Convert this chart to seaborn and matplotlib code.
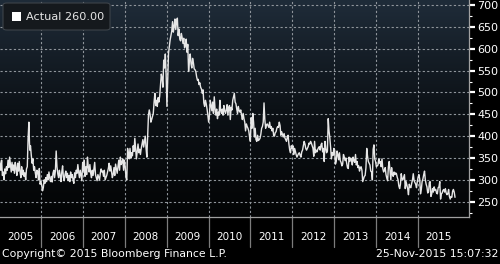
import numpy as np
import pandas as pd
import matplotlib
matplotlib.use("Agg")
import matplotlib.pyplot as plt
import matplotlib.dates as mdates
from matplotlib.colors import LinearSegmentedColormap
from matplotlib.patches import FancyBboxPatch, Rectangle
import seaborn as sns

# Weekly initial jobless claims (thousands)
claims_2005 = [348, 336, 322, 345, 310, 318, 300, 325, 314, 330, 322, 345, 328,
               352, 335, 318, 340, 322, 334, 315, 340, 326, 310, 338, 320, 342,
               318, 305, 330, 312, 322, 308, 316, 300, 325, 330, 395, 432, 368,
               378, 356, 338, 348, 322, 330, 316, 305, 322, 318, 300, 326, 290, 296]
claims_2006 = [288, 275, 282, 300, 292, 305, 296, 312, 300, 318, 304, 296,
               308, 295, 315, 322, 305, 320, 366, 330, 314, 305, 322, 310, 296,
               318, 332, 306, 298, 312, 320, 305, 315, 298, 310, 296, 318, 305, 312,
               300, 292, 316, 305, 322, 315, 335, 318, 305, 322, 310, 298, 340]
claims_2007 = [320, 345, 308, 330, 312, 352, 330, 318, 335, 315, 305, 322, 310,
               326, 340, 312, 305, 298, 312, 306, 300, 315, 325, 318, 320, 308,
               322, 300, 305, 310, 318, 326, 338, 320, 332, 318, 305, 312, 328,
               310, 336, 325, 315, 330, 345, 322, 352, 335, 340, 348, 322, 345]
claims_2008 = [330, 305, 300, 372, 358, 348, 372, 350, 362, 355, 378, 365, 395,
               372, 348, 365, 382, 362, 370, 358, 372, 382, 392, 375, 388, 400,
               372, 352, 402, 448, 460, 450, 432, 438, 445, 452, 478, 498, 470,
               482, 468, 488, 478, 492, 518, 542, 532, 512, 574, 556, 588, 542]
claims_2009 = [468, 528, 590, 605, 620, 630, 640, 662, 638, 652, 668, 644, 662,
               670, 630, 645, 622, 618, 635, 625, 612, 624, 602, 608, 622, 592,
               610, 548, 572, 588, 566, 556, 578, 568, 554, 552, 548, 536, 528,
               530, 518, 522, 512, 508, 498, 506, 476, 468, 482, 474, 462, 448]
claims_2010 = [432, 448, 482, 470, 458, 478, 452, 490, 462, 448, 462, 440, 455,
               448, 482, 458, 452, 462, 448, 470, 458, 452, 460, 472, 448, 466,
               470, 438, 466, 460, 482, 490, 498, 478, 474, 462, 452, 468, 458,
               455, 460, 448, 438, 452, 440, 432, 412, 428, 422, 418, 412, 398]
claims_2011 = [388, 442, 418, 452, 432, 398, 418, 392, 388, 402, 390, 392, 395,
               404, 418, 422, 432, 476, 438, 418, 426, 428, 424, 420, 432, 418,
               422, 412, 418, 402, 400, 408, 410, 418, 422, 420, 432, 424, 402,
               410, 404, 398, 406, 396, 392, 388, 398, 402, 382, 368, 362, 378, 372]
claims_2012 = [378, 358, 372, 366, 358, 352, 356, 360, 362, 356, 352, 364, 368,
               378, 388, 382, 372, 368, 372, 376, 384, 382, 388, 384, 378, 372,
               354, 388, 362, 368, 364, 370, 374, 376, 368, 380, 384, 364, 372,
               342, 388, 372, 362, 366, 440, 412, 396, 374, 348, 362, 356, 372]
claims_2013 = [368, 336, 342, 366, 358, 346, 362, 344, 340, 332, 336, 358, 352,
               344, 350, 338, 328, 326, 352, 342, 350, 346, 334, 352, 344, 340,
               358, 334, 342, 328, 332, 320, 328, 330, 322, 296, 302, 308, 310,
               328, 372, 354, 342, 338, 334, 320, 318, 300, 370, 380, 348, 342]
claims_2014 = [330, 332, 334, 348, 338, 342, 330, 348, 326, 318, 322, 328, 312,
               304, 298, 330, 342, 322, 300, 328, 312, 308, 318, 312, 316, 314,
               306, 300, 286, 280, 290, 314, 302, 300, 306, 312, 280, 296, 288,
               280, 266, 290, 284, 282, 292, 300, 314, 298, 294, 290, 282, 296]
claims_2015 = [306, 312, 302, 268, 278, 296, 302, 312, 320, 300, 290, 284, 270,
               272, 294, 296, 262, 268, 280, 272, 284, 276, 278, 270, 268, 282,
               284, 296, 256, 268, 270, 276, 278, 272, 280, 270, 266, 268, 278,
               262, 256, 262, 260, 274, 278, 272, 260]

years = list(range(2005, 2016))
year_labels = [str(y) for y in years]
y_ticks = [250, 300, 350, 400, 450, 500, 550, 600, 650, 700]
legend_label = "Actual"
copyright_text = "Copyright\u00a9 2015 Bloomberg Finance L.P."
stamp_text = "25-Nov-2015 15:07:32"

values = (claims_2005 + claims_2006 + claims_2007 + claims_2008 + claims_2009 +
          claims_2010 + claims_2011 + claims_2012 + claims_2013 + claims_2014 +
          claims_2015)
dates = pd.date_range("2005-01-01", periods=len(values), freq="7D")
df = pd.DataFrame({"date": dates, "claims": values})

sns.set_style("dark")
plt.rcParams['font.family'] = ['DejaVu Sans']

W, H = 500, 264
fig = plt.figure(figsize=(W / 100, H / 100), dpi=100, facecolor='black')
ax_bottom_px = 217
ax_right_px = 469
ax = fig.add_axes([0, 1 - ax_bottom_px / H, ax_right_px / W, ax_bottom_px / H])
ax.set_facecolor('black')

# background gradient
cmap = LinearSegmentedColormap.from_list('bg', ['#030405', '#0c1116', '#1f2c39'])
grad = np.linspace(0, 1, 256).reshape(-1, 1)
ax.imshow(grad, extent=[0, 1, 0, 1], transform=ax.transAxes, origin='lower',
          cmap=cmap, aspect='auto', zorder=0)

sns.lineplot(data=df, x='date', y='claims', ax=ax, color='#e6e6e6',
             linewidth=1.0, zorder=3)

xmin = pd.Timestamp("2005-01-08")
xmax = pd.Timestamp("2016-03-22")
ax.set_xlim(xmin, xmax)
ax.set_ylim(215, 711.5)

# horizontal grid
ax.set_yticks(y_ticks)
ax.set_yticks([v + 25 for v in y_ticks[:-1]] + [225], minor=True)
ax.grid(axis='y', which='major', color='#8f959b', linestyle=(0, (2, 2)), linewidth=0.8)
ax.grid(axis='x', visible=False)

# vertical grid at year boundaries and dividers below
for y in years[1:]:
    d = pd.Timestamp(f"{y}-01-01")
    ax.axvline(d, color='#8f959b', linestyle=(0, (2, 2)), linewidth=0.8, zorder=1)
for y in years[1:]:
    d = pd.Timestamp(f"{y}-01-01")
    ax.axvline(d, ymin=-0.14, ymax=0, clip_on=False, color='#7c7c7c', linewidth=0.9)

# year labels centred in each visible year span
mids = []
for y in years:
    left = max(pd.Timestamp(f"{y}-01-01"), xmin)
    right = min(pd.Timestamp(f"{y + 1}-01-01"), xmax)
    mids.append(left + (right - left) / 2)
ax.set_xticks(mids)
ax.set_xticklabels(year_labels)
ax.xaxis.set_minor_locator(mdates.MonthLocator(bymonth=[1, 4, 7, 10]))
ax.tick_params(axis='x', which='major', length=0, pad=11, labelsize=7.5, labelcolor='white')
ax.tick_params(axis='x', which='minor', direction='out', length=3, width=0.8, color='white')
ax.set_xlabel('')

ax.yaxis.tick_right()
ax.tick_params(axis='y', which='major', direction='out', length=4, width=1.6,
               color='white', labelsize=8, labelcolor='white', pad=2)
ax.tick_params(axis='y', which='minor', direction='out', length=2, width=0.8, color='white')
ax.set_ylabel('')

for s in ['top', 'left']:
    ax.spines[s].set_visible(False)
for s in ['right', 'bottom']:
    ax.spines[s].set_visible(True)
    ax.spines[s].set_color('#a0a0a0')
    ax.spines[s].set_linewidth(0.9)

# legend box
box = FancyBboxPatch((3 / W, 1 - 30 / H), 107 / W, 27 / H,
                     boxstyle='round,pad=0,rounding_size=0.008',
                     transform=fig.transFigure, facecolor='#15191d',
                     edgecolor='#3d4349', linewidth=0.8, zorder=10)
fig.add_artist(box)
sq = Rectangle((12 / W, 1 - 21 / H), 9 / W, 9 / H, transform=fig.transFigure,
               facecolor='white', edgecolor='none', zorder=11)
fig.add_artist(sq)
fig.text(26 / W, 1 - 16.5 / H, f"{legend_label} {values[-1]:.2f}", va='center', ha='left',
         color='#e6e6e6', fontsize=8.1, zorder=12)

fig.text(2 / W, 1 - 254 / H, copyright_text, va='center', ha='left', color='white', fontsize=7.8)
fig.text(498 / W, 1 - 254 / H, stamp_text, va='center', ha='right', color='white', fontsize=7.8)

fig.savefig('out.png', dpi=100, facecolor='black')
